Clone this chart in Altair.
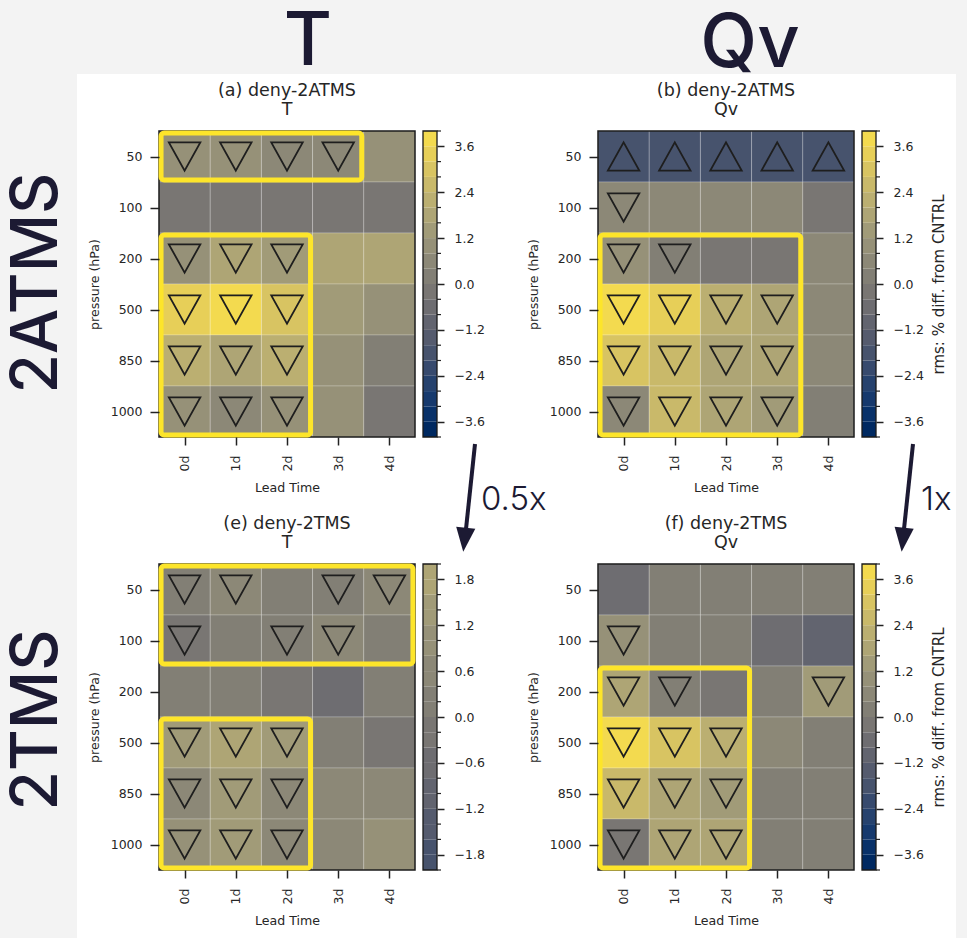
import json
import altair as alt
import pandas as pd

# ---------------- data ----------------
LEAD = ["0d", "1d", "2d", "3d", "4d"]
PRES = ["50", "100", "200", "500", "850", "1000"]

# rms % difference from CNTRL (rows = pressure levels top->bottom, cols = lead time)
A_VALS = [
    [0.8, 1.0, 0.5, 0.6, 0.8],
    [-0.2, -0.2, -0.1, -0.2, -0.3],
    [0.9, 1.8, 1.5, 1.6, 1.6],
    [3.5, 3.6, 3.1, 1.4, 1.1],
    [2.0, 1.9, 2.0, 1.1, 0.3],
    [0.9, 0.6, 0.9, 1.0, -0.3],
]
B_VALS = [
    [-1.8, -1.7, -1.8, -2.0, -1.7],
    [0.6, 0.5, 0.5, 0.5, -0.1],
    [0.8, 0.1, -0.1, -0.1, 0.6],
    [4.0, 3.2, 2.2, 1.6, 0.6],
    [2.8, 2.6, 1.9, 1.6, 0.6],
    [0.6, 2.4, 1.9, 1.5, 0.1],
]
E_VALS = [
    [0.3, 0.45, 0.3, 0.25, 0.55],
    [-0.1, 0.0, 0.25, 0.6, 0.3],
    [0.0, 0.0, -0.1, -0.8, 0.2],
    [1.5, 1.6, 1.45, 0.3, -0.2],
    [0.75, 1.4, 0.75, 0.5, 0.55],
    [0.8, 1.35, 0.75, 0.4, 1.1],
]
F_VALS = [
    [-0.5, 0.2, 0.2, 0.2, 0.2],
    [0.8, 0.2, 0.2, -0.5, -1.0],
    [1.9, 0.1, -0.1, 0.0, 1.2],
    [3.9, 3.0, 2.0, 0.6, 0.1],
    [2.7, 1.7, 1.2, 0.1, 0.1],
    [-0.3, 1.9, 1.6, 0.0, 0.0],
]

# significance markers: "v" = degradation (down), "^" = improvement (up), "" = none
A_SIG = [
    ["v", "v", "v", "v", ""],
    ["", "", "", "", ""],
    ["v", "v", "v", "", ""],
    ["v", "v", "v", "", ""],
    ["v", "v", "v", "", ""],
    ["v", "v", "v", "", ""],
]
B_SIG = [
    ["^", "^", "^", "^", "^"],
    ["v", "", "", "", ""],
    ["v", "v", "", "", ""],
    ["v", "v", "v", "v", ""],
    ["v", "v", "v", "v", ""],
    ["v", "v", "v", "v", ""],
]
E_SIG = [
    ["v", "v", "", "v", "v"],
    ["v", "", "v", "v", ""],
    ["", "", "", "", ""],
    ["v", "v", "v", "", ""],
    ["v", "v", "v", "", ""],
    ["v", "v", "v", "", ""],
]
F_SIG = [
    ["", "", "", "", ""],
    ["v", "", "", "", ""],
    ["v", "v", "", "", "v"],
    ["v", "v", "v", "", ""],
    ["v", "v", "v", "", ""],
    ["v", "v", "v", "", ""],
]

# highlighted blocks: [first col, last col, first row, last row]
A_BOX = [[0, 3, 0, 0], [0, 2, 2, 5]]
B_BOX = [[0, 3, 2, 5]]
E_BOX = [[0, 4, 0, 1], [0, 2, 3, 5]]
F_BOX = [[0, 2, 2, 5]]

COL_TITLES = ["T", "Qv"]
ROW_TITLES = ["2ATMS", "2TMS"]
FACTORS = ["0.5x", "1x"]
CBAR_TITLE = "rms: % diff. from CNTRL"

# ---------------- style ----------------
W, H = 256, 306
FONT = "DejaVu Sans"
TXT = "#262626"
DARK = "#1c1a33"
YELLOW = "#fde52a"
DOWN = "M-1,-0.9L1,-0.9L0,0.9Z"
UP = "M-1,0.9L1,0.9L0,-0.9Z"
HEAD = "M-0.8,-1L0.8,-1L0,1Z"


def one():
    return pd.DataFrame({"k": [0]})


def txt(s, x, y, size, weight, angle=0, align="center", baseline="alphabetic",
        font="Inter", color=DARK):
    kw = dict(text=s, fontSize=size, fontWeight=weight, font=font, color=color,
              align=align, baseline=baseline)
    if angle:
        kw["angle"] = angle
    return alt.Chart(one()).mark_text(**kw).encode(x=alt.value(x), y=alt.value(y))


def panel(title, vals, sig, boxes, vmax, major, cbar_title, annotations=None):
    nb = 20
    step = 2 * vmax / nb
    cs = alt.Scale(type="quantize", domain=[-vmax, vmax], nice=False,
                   scheme=alt.SchemeParams(name="cividis", count=nb))

    cells, tris, bx = [], [], []
    for r in range(len(PRES)):
        for c in range(len(LEAD)):
            cells.append(dict(xa=c, xb=c + 1, ya=r, yb=r + 1, v=vals[r][c]))
            if sig[r][c]:
                tris.append(dict(xa=c + 0.5, ya=r + 0.5, d=sig[r][c]))
    ins = 0.04
    for c0, c1, r0, r1 in boxes:
        bx.append(dict(xa=c0 + ins, xb=c1 + 1 - ins, ya=r0 + ins, yb=r1 + 1 - ins))

    xs = alt.Scale(domain=[0, len(LEAD)], nice=False, zero=False)
    ys = alt.Scale(domain=[0, len(PRES)], nice=False, zero=False, reverse=True)
    common = dict(grid=False, domain=False, tickColor="#222", tickWidth=1.5, zindex=2,
                  labelFont=FONT, labelFontSize=12.5, labelColor=TXT,
                  titleFont=FONT, titleColor=TXT, titleFontWeight="normal")
    xaxis = alt.Axis(values=[c + 0.5 for c in range(len(LEAD))],
                     labelExpr=json.dumps(LEAD) + "[floor(datum.value)]",
                     labelAngle=270, title="Lead Time", tickSize=8, titleFontSize=12.6,
                     labelPadding=10, titlePadding=11, **common)
    yaxis = alt.Axis(values=[r + 0.5 for r in range(len(PRES))],
                     labelExpr=json.dumps(PRES) + "[floor(datum.value)]",
                     orient="left", title="pressure (hPa)", tickSize=9, titleFontSize=12.6,
                     labelPadding=8, titlePadding=9, **common)
    X = alt.X("xa:Q", scale=xs, axis=xaxis)
    Y = alt.Y("ya:Q", scale=ys, axis=yaxis)

    heat = alt.Chart(pd.DataFrame(cells)).mark_rect(
        stroke="white", strokeOpacity=0.28, strokeWidth=0.8
    ).encode(x=X, x2="xb:Q", y=Y, y2="yb:Q",
             color=alt.Color("v:Q", scale=cs, legend=None))
    tri = alt.Chart(pd.DataFrame(tris)).mark_point(
        filled=False, size=990, strokeWidth=1.8, opacity=1
    ).encode(x=X, y=Y,
             shape=alt.Shape("d:N", scale=alt.Scale(domain=["v", "^"], range=[DOWN, UP]),
                             legend=None),
             color=alt.value("#1e1e1e"))
    box = alt.Chart(pd.DataFrame(bx)).mark_rect(
        filled=False, color=YELLOW, strokeWidth=5, cornerRadius=3
    ).encode(x=X, x2="xb:Q", y=Y, y2="yb:Q")
    frame = alt.Chart(one()).mark_rect(filled=False, color="#1a1a1a", strokeWidth=1.5).encode(
        x=alt.value(0), x2=alt.value(W), y=alt.value(0), y2=alt.value(H))
    heat_group = alt.layer(heat, frame, tri, box)

    # colour bar
    bands = [dict(ya=-vmax + i * step, yb=-vmax + (i + 1) * step,
                  v=-vmax + (i + 0.5) * step) for i in range(nb)]
    minors = [dict(ya=-vmax + i * step) for i in range(nb + 1)
              if all(abs(-vmax + i * step - m) > 1e-6 for m in major)]
    cbs = alt.Scale(domain=[-vmax, vmax], nice=False, zero=False)
    cax = dict(orient="right", offset=22, values=major, format=".1f", tickSize=7,
               labelPadding=10, titleAngle=270, titleBaseline="top", titlePadding=8,
               titleFontSize=15, **common)
    cax["title"] = cbar_title if cbar_title else None
    CY = alt.Y("ya:Q", scale=cbs, axis=alt.Axis(**cax))
    cx0, cx1 = W + 8, W + 22
    cbar = alt.Chart(pd.DataFrame(bands)).mark_rect().encode(
        x=alt.value(cx0), x2=alt.value(cx1), y=CY, y2="yb:Q",
        color=alt.Color("v:Q", scale=cs, legend=None))
    mticks = alt.Chart(pd.DataFrame(minors)).mark_rule(color="#222", strokeWidth=1.2).encode(
        x=alt.value(cx1), x2=alt.value(cx1 + 4), y=CY)
    cframe = alt.Chart(one()).mark_rect(filled=False, color="#1a1a1a", strokeWidth=1.3).encode(
        x=alt.value(cx0), x2=alt.value(cx1), y=alt.value(0), y2=alt.value(H))
    cbar_group = alt.layer(cbar, mticks, cframe)

    titles = [txt(title[0], W / 2, -35, 17.5, "normal", font=FONT, color=TXT),
              txt(title[1], W / 2, -16, 17.5, "normal", font=FONT, color=TXT)]

    pre, post = [], []
    if annotations:
        pre, post = annotations
    layers = pre + [heat_group, cbar_group] + titles + post
    return alt.layer(*layers).resolve_scale(y="independent").properties(width=W, height=H)


# ---------------- annotations (pixel offsets relative to panel (a) plot origin) ----------------
def arrow(x0, y0, x1, y1, hx, hy):
    line = alt.Chart(one()).mark_rule(color=DARK, strokeWidth=4).encode(
        x=alt.value(x0), y=alt.value(y0), x2=alt.value(x1), y2=alt.value(y1))
    head = alt.Chart(one()).mark_point(shape=HEAD, size=576, filled=True, color=DARK,
                                       opacity=1, angle=6).encode(
        x=alt.value(hx), y=alt.value(hy))
    return [line, head]


bg = alt.Chart(one()).mark_rect(color="#f3f3f3").encode(
    x=alt.value(-159), x2=alt.value(808), y=alt.value(-131), y2=alt.value(807))
white = alt.Chart(one()).mark_rect(color="white").encode(
    x=alt.value(-82), x2=alt.value(797), y=alt.value(-57), y2=alt.value(807))

post = [
    txt(COL_TITLES[0], 149, -66, 74, 500),
    txt(COL_TITLES[1], 591, -64, 74, 500),
    txt(ROW_TITLES[0], -121, 152, 64, 500, angle=270, baseline="middle"),
    txt(ROW_TITLES[1], -121, 589, 64, 500, angle=270, baseline="middle"),
    *arrow(316, 313, 306.8, 400, 305.5, 408.8),
    *arrow(754, 313, 744.8, 400, 743.9, 408.8),
    txt(FACTORS[0], 322, 379, 33, 300, align="left"),
    txt(FACTORS[1], 762, 379, 33, 300, align="left"),
]

MAJ4 = [-3.6, -2.4, -1.2, 0.0, 1.2, 2.4, 3.6]
MAJ2 = [-1.8, -1.2, -0.6, 0.0, 0.6, 1.2, 1.8]

pa = panel(["(a) deny-2ATMS", "T"], A_VALS, A_SIG, A_BOX, 4.0, MAJ4, None,
           annotations=([bg, white], post))
pb = panel(["(b) deny-2ATMS", "Qv"], B_VALS, B_SIG, B_BOX, 4.0, MAJ4, CBAR_TITLE)
pe = panel(["(e) deny-2TMS", "T"], E_VALS, E_SIG, E_BOX, 2.0, MAJ2, None)
pf = panel(["(f) deny-2TMS", "Qv"], F_VALS, F_SIG, F_BOX, 4.0, MAJ4, CBAR_TITLE)

chart = alt.concat(pa, pb, pe, pf, columns=2, spacing={"row": 127, "column": 183},
                   bounds="flush").properties(padding=0).configure(
    background="#f3f3f3").configure_view(strokeWidth=0)

chart.save("out.html", embed_options={"renderer": "svg", "actions": False})
